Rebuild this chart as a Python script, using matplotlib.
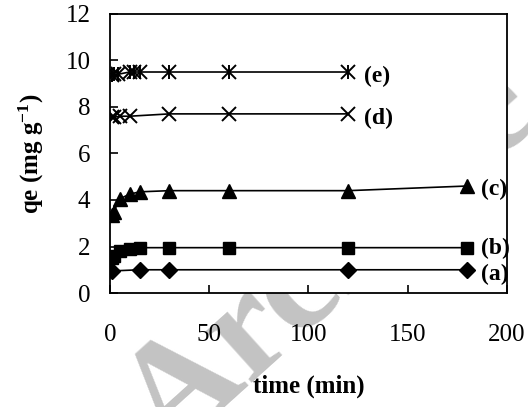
import numpy as np
import matplotlib
matplotlib.use('Agg')
import matplotlib.pyplot as plt
from matplotlib import rcParams

rcParams['font.family'] = 'Liberation Serif'
rcParams['mathtext.default'] = 'regular'

# contact time (min) and uptake qe (mg/g) for each run
t_a = [1, 15, 30, 120, 180]
q_a = [0.95, 1.0, 1.0, 1.0, 1.0]
t_b = [1, 2, 5, 10, 15, 30, 60, 120, 180]
q_b = [1.5, 1.6, 1.8, 1.9, 1.95, 1.95, 1.95, 1.95, 1.95]
t_c = [1, 2, 5, 10, 15, 30, 60, 120, 180]
q_c = [3.35, 3.5, 4.05, 4.25, 4.35, 4.4, 4.4, 4.4, 4.6]
t_d = [1, 2, 5, 10, 30, 60, 120]
q_d = [7.55, 7.55, 7.6, 7.6, 7.7, 7.7, 7.7]
t_e = [1, 2, 4, 10, 12, 15, 30, 60, 120]
q_e = [9.35, 9.4, 9.4, 9.5, 9.5, 9.5, 9.5, 9.5, 9.5]
labels = ['(a)', '(b)', '(c)', '(d)', '(e)']
label_x = [187, 187, 187, 128, 128]
label_y = [0.78, 1.9, 4.45, 7.5, 9.3]

fig = plt.figure(figsize=(5.28, 4.07), dpi=100)
ax = fig.add_axes([0.208, 0.280, 0.752, 0.686])

# faint background stamp, hidden by the white plot area
fig.text(0.63, 0.36, 'Archive', fontsize=108, fontweight='bold', color='#c3c3c3',
         rotation=42, ha='center', va='center', zorder=0)
ax.set_facecolor('white')
ax.set_zorder(1)

ax.plot(t_a, q_a, 'k-', marker='D', ms=8.5, lw=1.2)
ax.plot(t_b, q_b, 'k-', marker='s', ms=8, lw=1.2)
ax.plot(t_c, q_c, 'k-', marker='^', ms=10.5, lw=1.2)
ax.plot(t_d, q_d, 'k-', marker='x', ms=9.5, mew=1.4, lw=1.2)
ax.plot(t_e, q_e, 'k-', marker='x', ms=9.5, mew=1.4, lw=1.2)
ax.plot(t_e, q_e, 'k', ls='none', marker='|', ms=10, mew=1.4)

for lab, x, y in zip(labels, label_x, label_y):
    ax.text(x, y, lab, fontsize=17, fontweight='bold', va='center', ha='left')

ax.set_xlim(0, 200)
ax.set_ylim(0, 12)
ax.set_xticks([0, 50, 100, 150, 200])
ax.set_yticks(range(0, 13, 2))
ax.tick_params(direction='in', length=6, width=1.2, labelsize=18)
ax.tick_params(axis='x', pad=22)
ax.tick_params(axis='y', pad=14)
for s in ax.spines.values():
    s.set_linewidth(1.3)

ax.set_xlabel('time (min)', fontsize=18, fontweight='bold', labelpad=21)
ax.set_ylabel('qe (mg g$^{-1}$)', fontsize=18, fontweight='bold', labelpad=14)

fig.savefig('out.png', dpi=100)
